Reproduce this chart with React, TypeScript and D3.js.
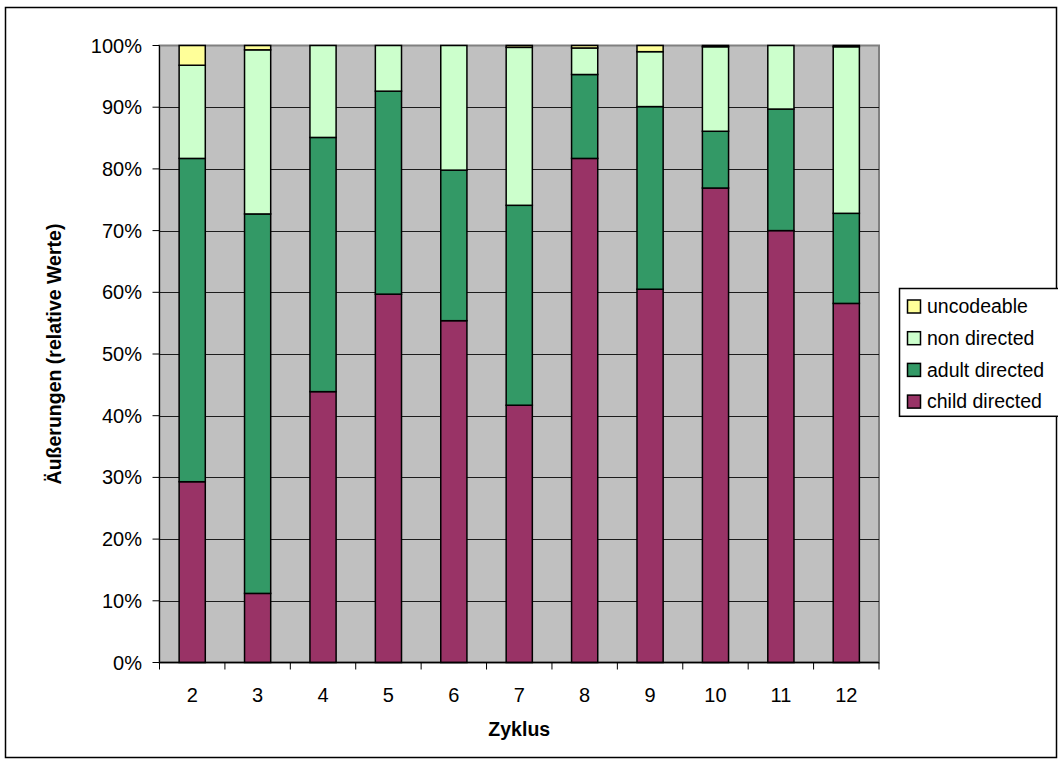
import React from "react";
import * as d3 from "d3";

// Cycles (x categories)
const cycles = ["2", "3", "4", "5", "6", "7", "8", "9", "10", "11", "12"];

// Relative share of utterances per cycle, in percent
const childDirected = [29.3, 11.2, 43.9, 59.7, 55.4, 41.7, 81.7, 60.5, 76.9, 70.0, 58.2];
const adultDirected = [52.4, 61.5, 41.2, 32.9, 24.4, 32.4, 13.6, 29.6, 9.2, 19.7, 14.6];
const nonDirected = [15.1, 26.6, 14.9, 7.4, 20.2, 25.6, 4.3, 8.9, 13.7, 10.3, 27.0];
const uncodeable = [3.2, 0.7, 0.0, 0.0, 0.0, 0.3, 0.4, 1.0, 0.2, 0.0, 0.2];

const seriesNames = ["child directed", "adult directed", "non directed", "uncodeable"];
const seriesColors = ["#993366", "#339966", "#CCFFCC", "#FFFF99"];
const yTicks = [0, 10, 20, 30, 40, 50, 60, 70, 80, 90, 100];

const W = 1058;
const H = 764;
const plot = { left: 159.5, right: 879, top: 45.5, bottom: 662.5 };
const FONT = "Liberation Sans, Arial, Helvetica, sans-serif";

export default function App() {
  const rows = cycles.map((c, i) => ({
    cycle: c,
    "child directed": childDirected[i],
    "adult directed": adultDirected[i],
    "non directed": nonDirected[i],
    uncodeable: uncodeable[i],
  }));
  const stacked = d3.stack<any>().keys(seriesNames)(rows);

  const x = d3
    .scaleBand<string>()
    .domain(cycles)
    .range([plot.left, plot.right])
    .paddingInner(0.6)
    .paddingOuter(0.3);
  const xOuter = d3.scaleBand<string>().domain(cycles).range([plot.left, plot.right]);
  const y = d3.scaleLinear().domain([0, 100]).range([plot.bottom, plot.top]);

  const boundaries = [...cycles.map((c) => xOuter(c)!), plot.right];

  const legendX = 899.5;
  const legendY = 288.5;
  const rowH = 31.7;
  const legendOrder = [...seriesNames].reverse();
  const legendColors = [...seriesColors].reverse();

  return (
    <svg
      width={W}
      height={H}
      style={{ position: "absolute", left: 0, top: 0, background: "#fff" }}
      fontFamily={FONT}
    >
      <rect x={0} y={0} width={W} height={H} fill="#fff" />
      {/* outer chart frame */}
      <rect x={5.5} y={7.5} width={1051} height={750} fill="none" stroke="#000" strokeWidth={1.5} />

      {/* plot area */}
      <rect
        x={plot.left}
        y={plot.top}
        width={plot.right - plot.left}
        height={plot.bottom - plot.top}
        fill="#C0C0C0"
        stroke="#808080"
        strokeWidth={2}
      />
      {yTicks.map((t) => (
        <line
          key={"g" + t}
          x1={plot.left}
          x2={plot.right}
          y1={Math.round(y(t)) + 0.5}
          y2={Math.round(y(t)) + 0.5}
          stroke="#000"
          strokeWidth={1}
          opacity={t === 0 || t === 100 ? 0 : 0.85}
        />
      ))}

      {/* stacked bars */}
      {stacked.map((s, si) => (
        <g key={s.key}>
          {s.map((d, i) =>
            d[1] - d[0] > 0 ? (
              <rect
                key={i}
                x={x(cycles[i])!}
                y={y(d[1])}
                width={x.bandwidth()}
                height={y(d[0]) - y(d[1])}
                fill={seriesColors[si]}
                stroke="#000"
                strokeWidth={1.5}
              />
            ) : null
          )}
        </g>
      ))}

      {/* y axis */}
      <line x1={plot.left} x2={plot.left} y1={plot.top} y2={plot.bottom} stroke="#000" strokeWidth={1} />
      {yTicks.map((t) => (
        <g key={"yt" + t}>
          <line x1={plot.left - 7} x2={plot.left} y1={y(t)} y2={y(t)} stroke="#000" strokeWidth={1} />
          <text x={142} y={y(t)} dy="0.35em" textAnchor="end" fontSize={20} fill="#000">
            {t + "%"}
          </text>
        </g>
      ))}

      {/* x axis */}
      <line x1={plot.left} x2={plot.right} y1={plot.bottom} y2={plot.bottom} stroke="#000" strokeWidth={1.5} />
      {boundaries.map((b, i) => (
        <line key={"xt" + i} x1={b} x2={b} y1={plot.bottom} y2={plot.bottom + 7} stroke="#000" strokeWidth={1} />
      ))}
      {cycles.map((c) => (
        <text
          key={"xl" + c}
          x={xOuter(c)! + xOuter.bandwidth() / 2}
          y={702}
          textAnchor="middle"
          fontSize={20}
          fill="#000"
        >
          {c}
        </text>
      ))}

      {/* axis titles */}
      <text
        x={(plot.left + plot.right) / 2}
        y={736}
        textAnchor="middle"
        fontSize={19.5}
        fontWeight="bold"
        fill="#000"
      >
        Zyklus
      </text>
      <text
        transform={`translate(61, ${(plot.top + plot.bottom) / 2}) rotate(-90)`}
        textAnchor="middle"
        fontSize={19.5}
        fontWeight="bold"
        fill="#000"
      >
        Äußerungen (relative Werte)
      </text>

      {/* legend */}
      <rect
        x={legendX}
        y={legendY}
        width={170}
        height={rowH * 4 + 1}
        fill="#fff"
        stroke="#000"
        strokeWidth={1.5}
      />
      {legendOrder.map((name, i) => {
        const cy = legendY + 18 + i * rowH;
        return (
          <g key={name}>
            <rect x={907.5} y={cy - 6.5} width={13} height={13} fill={legendColors[i]} stroke="#000" strokeWidth={1.5} />
            <text x={927} y={cy} dy="0.35em" fontSize={19.5} fill="#000">
              {name}
            </text>
          </g>
        );
      })}
    </svg>
  );
}
